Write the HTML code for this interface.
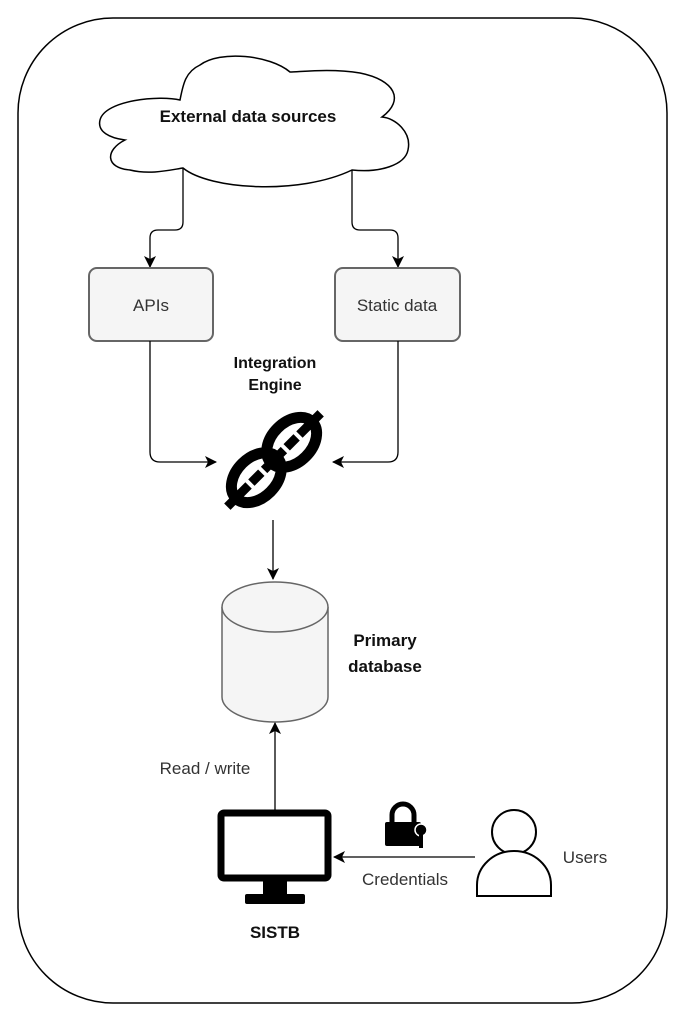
<!DOCTYPE html>
<html><head><meta charset="utf-8"><style>
html,body{margin:0;padding:0;background:#fff;}
svg{display:block;}
text{font-family:"Liberation Sans",sans-serif;}
</style></head><body>
<svg width="685" height="1020" viewBox="0 0 685 1020" xmlns="http://www.w3.org/2000/svg">
<defs>
<marker id="ah" markerWidth="14" markerHeight="14" refX="11" refY="6" orient="auto" markerUnits="userSpaceOnUse">
<path d="M0,0 L12,6 L0,12 L3,6 Z" fill="#000"/>
</marker>
</defs>
<rect x="18" y="18" width="649" height="985" rx="95" ry="95" fill="#fff" stroke="#000" stroke-width="1.5"/>
<!-- cloud -->
<path d="M180,100 C160,95 105,100 100,120 C97,132 110,138 125,140 C105,150 105,168 130,170 C150,175 170,170 183,168 C210,190 300,195 352,170 C380,173 405,165 408,150 C412,132 395,118 382,117 C405,100 395,80 360,73 C330,68 300,72 290,72 C270,55 220,50 200,65 C185,72 183,85 180,100 Z" fill="#fff" stroke="#000" stroke-width="1.5"/>
<text x="248" y="122" font-size="17" font-weight="bold" text-anchor="middle" fill="#111">External data sources</text>
<path d="M183,168 L183,222 Q183,230 175,230 L158,230 Q150,230 150,238 L150,267" fill="none" stroke="#000" stroke-width="1.3" marker-end="url(#ah)"/>
<path d="M352,170 L352,222 Q352,230 360,230 L390,230 Q398,230 398,238 L398,267" fill="none" stroke="#000" stroke-width="1.3" marker-end="url(#ah)"/>
<rect x="89" y="268" width="124" height="73" rx="8" fill="#f5f5f5" stroke="#666" stroke-width="2"/>
<text x="151" y="311" font-size="17" text-anchor="middle" fill="#333">APIs</text>
<rect x="335" y="268" width="125" height="73" rx="8" fill="#f5f5f5" stroke="#666" stroke-width="2"/>
<text x="397" y="311" font-size="17" text-anchor="middle" fill="#333">Static data</text>
<text x="275" y="368" font-size="16" font-weight="bold" text-anchor="middle" fill="#111">Integration</text>
<text x="275" y="390" font-size="16" font-weight="bold" text-anchor="middle" fill="#111">Engine</text>
<path d="M150,341 L150,452 Q150,462 160,462 L216,462" fill="none" stroke="#000" stroke-width="1.3" marker-end="url(#ah)"/>
<path d="M398,341 L398,452 Q398,462 388,462 L333,462" fill="none" stroke="#000" stroke-width="1.3" marker-end="url(#ah)"/>
<!-- chain -->
<g transform="translate(274,460) rotate(-45)">
<line x1="-66" y1="0" x2="66" y2="0" stroke="#000" stroke-width="9"/>
<ellipse cx="-25" cy="0" rx="29" ry="20" fill="none" stroke="#000" stroke-width="11"/>
<ellipse cx="25" cy="0" rx="29" ry="20" fill="none" stroke="#000" stroke-width="11"/>
<line x1="-34" y1="-7" x2="-34" y2="7" stroke="#fff" stroke-width="4"/>
<line x1="-16" y1="-7" x2="-16" y2="7" stroke="#fff" stroke-width="4"/>
<line x1="16" y1="-7" x2="16" y2="7" stroke="#fff" stroke-width="4"/>
<line x1="34" y1="-7" x2="34" y2="7" stroke="#fff" stroke-width="4"/>
</g>
<path d="M273,520 L273,579" fill="none" stroke="#000" stroke-width="1.3" marker-end="url(#ah)"/>
<path d="M222,607 L222,697 A53,25 0 0 0 328,697 L328,607" fill="#f5f5f5" stroke="#666" stroke-width="1.5"/>
<ellipse cx="275" cy="607" rx="53" ry="25" fill="#f5f5f5" stroke="#666" stroke-width="1.5"/>
<text x="385" y="646" font-size="17" font-weight="bold" text-anchor="middle" fill="#111">Primary</text>
<text x="385" y="672" font-size="17" font-weight="bold" text-anchor="middle" fill="#111">database</text>
<path d="M275,810 L275,723" fill="none" stroke="#000" stroke-width="1.3" marker-end="url(#ah)"/>
<text x="205" y="774" font-size="17" text-anchor="middle" fill="#333">Read / write</text>
<rect x="221" y="813" width="107" height="65" rx="3" fill="#fff" stroke="#000" stroke-width="7"/>
<rect x="263" y="880" width="24" height="16" fill="#000"/>
<rect x="245" y="894" width="60" height="10" rx="2" fill="#000"/>
<text x="275" y="938" font-size="17" font-weight="bold" text-anchor="middle" fill="#111">SISTB</text>
<path d="M475,857 L334,857" fill="none" stroke="#000" stroke-width="1.3" marker-end="url(#ah)"/>
<text x="405" y="885" font-size="17" text-anchor="middle" fill="#333">Credentials</text>
<path d="M392,823 L392,815 A11,11 0 0 1 414,815 L414,823" fill="none" stroke="#000" stroke-width="5"/>
<rect x="385" y="822" width="36" height="24" rx="2" fill="#000"/>
<circle cx="421" cy="830" r="6" fill="#000" stroke="#fff" stroke-width="1.5"/>
<rect x="419" y="834" width="4" height="14" fill="#000"/>
<circle cx="514" cy="832" r="22" fill="#fff" stroke="#000" stroke-width="2"/>
<path d="M477,896 L477,885 A37,34 0 0 1 551,885 L551,896 Z" fill="#fff" stroke="#000" stroke-width="2"/>
<text x="585" y="863" font-size="17" text-anchor="middle" fill="#333">Users</text>
</svg>
</body></html>
